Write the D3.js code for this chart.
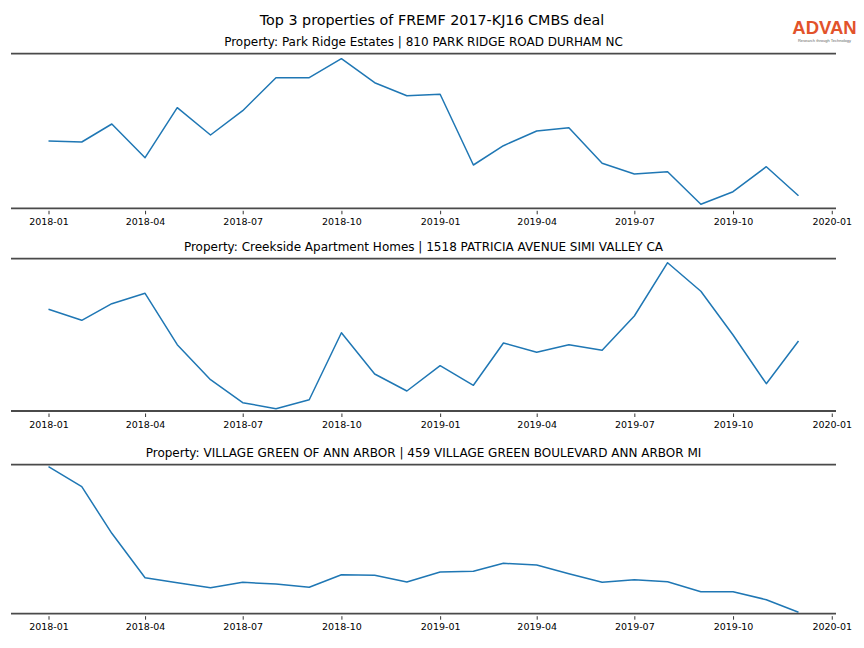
<!DOCTYPE html>
<html>
<head>
<meta charset="utf-8">
<script src="https://cdn.jsdelivr.net/npm/d3@7"></script>
<style>
  html, body { margin: 0; padding: 0; background: #fff; }
  svg { display: block; font-family: "DejaVu Sans", sans-serif; }
</style>
</head>
<body>
<svg id="chart" width="864" height="648"></svg>
<script>
// ---------- DATA ----------
const chartTitle = "Top 3 properties of FREMF 2017-KJ16 CMBS deal";
const propertyTitles = [
  "Property: Park Ridge Estates | 810 PARK RIDGE ROAD DURHAM NC",
  "Property: Creekside Apartment Homes | 1518 PATRICIA AVENUE SIMI VALLEY CA",
  "Property: VILLAGE GREEN OF ANN ARBOR | 459 VILLAGE GREEN BOULEVARD ANN ARBOR MI"
];
const months = [
  "2018-01","2018-02","2018-03","2018-04","2018-05","2018-06",
  "2018-07","2018-08","2018-09","2018-10","2018-11","2018-12",
  "2019-01","2019-02","2019-03","2019-04","2019-05","2019-06",
  "2019-07","2019-08","2019-09","2019-10","2019-11","2019-12"
];
const parkRidgeValues = [67.3,66.3,84.3,50.6,100.6,73.3,97.6,130.6,130.6,149.6,125.6,112.6,
                         114,43.3,62.6,77.3,80.6,45,34.3,36.6,4,16.6,41.6,12.6];
const creeksideValues = [101.7,90.7,107.3,117.7,66.3,31.3,8.3,2.3,11.3,78.3,37,20,
                         45.3,25.7,68,58.7,66.3,60.7,95,148.3,119.7,76,27.3,70];
const villageGreenValues = [147,127,80.4,36,31,26,31.4,29.7,26.4,39,38.4,31.7,
                            41.7,42.4,50.4,48.7,40,31.4,34,32,22,22,14,1.4];
const yLimits = [[0,154.6],[0,152.3],[0,149]];
const tickLabels = ["2018-01","2018-04","2018-07","2018-10","2019-01","2019-04","2019-07","2019-10","2020-01"];
const seriesList = [parkRidgeValues, creeksideValues, villageGreenValues];

// ---------- LAYOUT ----------
const W = 864;
const plotLeft = 11, plotRight = 836;
const panelTops = [53.7, 258.7, 464.7];
const panelBottoms = [208.3, 411, 613.7];
const parse = d3.utcParse("%Y-%m");
const dates = months.map(parse);

const svg = d3.select("#chart");

// x scale: matplotlib-style 5% margin around the data extent
const ext = d3.extent(dates);
const span = ext[1] - ext[0];
const x = d3.scaleUtc()
  .domain([new Date(+ext[0] - 0.05 * span), new Date(+ext[1] + 0.05 * span)])
  .range([plotLeft, plotRight]);

// main title
svg.append("text")
  .attr("x", W / 2).attr("y", 24.5)
  .attr("text-anchor", "middle")
  .attr("font-size", "14.3px")
  .attr("fill", "#000")
  .text(chartTitle);

// logo
svg.append("text")
  .attr("x", 824.5).attr("y", 33.5)
  .attr("text-anchor", "middle")
  .attr("font-family", "'Liberation Sans', Arial, sans-serif")
  .attr("font-size", "18.5px")
  .attr("font-weight", "bold")
  .attr("fill", "#e2532b")
  .text("ADVAN");
svg.append("text")
  .attr("x", 824.5).attr("y", 41.5)
  .attr("text-anchor", "middle")
  .attr("font-family", "'Liberation Sans', Arial, sans-serif")
  .attr("font-size", "4px")
  .attr("fill", "#666")
  .text("Research through Technology");

seriesList.forEach((vals, i) => {
  const top = panelTops[i], bottom = panelBottoms[i];
  const y = d3.scaleLinear().domain(yLimits[i]).range([bottom, top]);
  const g = svg.append("g");

  // panel title
  g.append("text")
    .attr("x", 423.5).attr("y", top - 8)
    .attr("text-anchor", "middle")
    .attr("font-size", "12px")
    .attr("fill", "#000")
    .text(propertyTitles[i]);

  // line
  const line = d3.line()
    .x((d, j) => x(dates[j]))
    .y(d => y(d));
  g.append("path")
    .datum(vals)
    .attr("d", line)
    .attr("fill", "none")
    .attr("stroke", "#1f77b4")
    .attr("stroke-width", 1.5)
    .attr("stroke-linejoin", "round");

  // x axis
  const axis = d3.axisBottom(x)
    .tickValues(tickLabels.map(parse))
    .tickFormat(d3.utcFormat("%Y-%m"))
    .tickSize(3.5)
    .tickSizeOuter(0)
    .tickPadding(4);
  const ax = g.append("g")
    .attr("transform", `translate(0,${bottom + 2.5})`)
    .call(axis);
  ax.select(".domain").remove();
  ax.selectAll(".tick line").attr("stroke", "#000").attr("stroke-width", 0.8);
  ax.selectAll(".tick text")
    .attr("font-family", "'DejaVu Sans', sans-serif")
    .attr("font-size", "9.5px")
    .attr("fill", "#000");

  // spines (top and bottom)
  [top, bottom].forEach(yy => {
    g.append("line")
      .attr("x1", plotLeft).attr("x2", plotRight)
      .attr("y1", yy).attr("y2", yy)
      .attr("stroke", "#4a4a4a")
      .attr("stroke-width", 1.8);
  });
});
</script>
</body>
</html>
